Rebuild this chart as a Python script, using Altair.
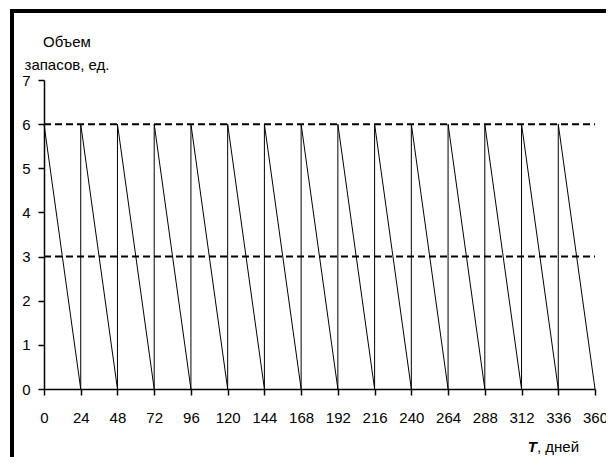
import altair as alt
import pandas as pd

# Sawtooth inventory level (days, units)
t_days = [0, 24, 24, 48, 48, 72, 72, 96, 96, 120, 120, 144, 144, 168, 168, 192,
          192, 216, 216, 240, 240, 264, 264, 288, 288, 312, 312, 336, 336, 360]
stock = [6, 0, 6, 0, 6, 0, 6, 0, 6, 0, 6, 0, 6, 0, 6, 0,
         6, 0, 6, 0, 6, 0, 6, 0, 6, 0, 6, 0, 6, 0]
ref_levels = [6, 3]
ref_start = [0, 0]
ref_end = [360, 360]
x_ticks = list(range(0, 361, 24))
y_ticks = [0, 1, 2, 3, 4, 5, 6, 7]

FONT = "Liberation Sans, Arial, sans-serif"
FS = 15

df = pd.DataFrame({"t": t_days, "q": stock, "i": list(range(len(t_days)))})
ref = pd.DataFrame({"y": ref_levels, "x0": ref_start, "x1": ref_end})

xs = alt.Scale(domain=[0, 360], nice=False, zero=False)
ys = alt.Scale(domain=[0, 7], nice=False)

xax = alt.Axis(values=x_ticks, title=None, grid=False, domainColor="black",
               domainWidth=1.5, tickColor="black", tickWidth=1.5, tickSize=6,
               labelFont=FONT, labelFontSize=FS, labelColor="black",
               labelPadding=15, labelFlush=False, labelOverlap=False,
               labelBound=False)
yax = alt.Axis(values=y_ticks, title=None, grid=False, domainColor="black",
               domainWidth=1.5, tickColor="black", tickWidth=1.5, tickSize=6,
               labelFont=FONT, labelFontSize=FS, labelColor="black",
               labelPadding=8, labelOverlap=False)

line = alt.Chart(df).mark_line(color="black", strokeWidth=1).encode(
    x=alt.X("t:Q", scale=xs, axis=xax),
    y=alt.Y("q:Q", scale=ys, axis=yax),
    order="i:Q",
)

dashes = alt.Chart(ref).mark_rule(color="black", strokeWidth=2,
                                  strokeDash=[7, 4]).encode(
    x=alt.X("x0:Q", scale=xs, axis=xax), x2="x1:Q",
    y=alt.Y("y:Q", scale=ys, axis=yax)
)

title1 = alt.Chart(pd.DataFrame({"s": ["Объем"]})).mark_text(
    font=FONT, fontSize=FS, color="black", align="center", baseline="middle"
).encode(text="s:N", x=alt.value(23), y=alt.value(-38))
title2 = alt.Chart(pd.DataFrame({"s": ["запасов, ед."]})).mark_text(
    font=FONT, fontSize=FS, color="black", align="center", baseline="middle"
).encode(text="s:N", x=alt.value(23), y=alt.value(-15))

xt1 = alt.Chart(pd.DataFrame({"s": ["T"]})).mark_text(
    font=FONT, fontSize=FS, color="black", align="right", baseline="middle",
    fontWeight="bold", fontStyle="italic"
).encode(text="s:N", x=alt.value(493), y=alt.value(367))
xt2 = alt.Chart(pd.DataFrame({"s": [", дней"]})).mark_text(
    font=FONT, fontSize=FS, color="black", align="left", baseline="middle"
).encode(text="s:N", x=alt.value(493), y=alt.value(367))

frame = alt.Chart(pd.DataFrame({"a": [0]})).mark_rect(
    fill=None, fillOpacity=0, stroke="black", strokeWidth=4, clip=False
).encode(x=alt.value(-32), x2=alt.value(620), y=alt.value(-69), y2=alt.value(440))

chart = alt.layer(line, dashes, title1, title2, xt1, xt2, frame).properties(
    width=551, height=309,
    autosize=alt.AutoSizeParams(type="none"),
    padding={"left": 36, "top": 72, "right": 11, "bottom": 68},
    background="white",
).configure_view(stroke=None)

chart.save("out.html", embed_options={"renderer": "svg", "actions": False})
